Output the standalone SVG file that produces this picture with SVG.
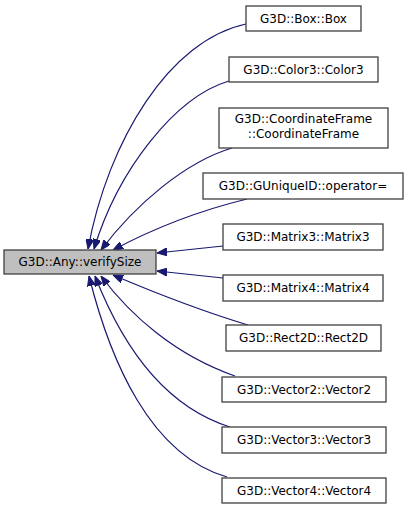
<svg xmlns="http://www.w3.org/2000/svg" width="409" height="509" viewBox="0 0 409 509">
<defs>
<style>
.node rect{fill:#ffffff;stroke:#404040;stroke-width:1.3}
.main rect{fill:#bfbfbf;stroke:#404040;stroke-width:1.3}
text{font-family:"DejaVu Sans","Liberation Sans",sans-serif;font-size:12px;fill:#000000;text-anchor:middle}
.edge{fill:none;stroke:#191970;stroke-width:1.2;marker-end:url(#ah)}
</style>
<marker id="ah" viewBox="0 0 10 8" refX="10" refY="4" markerWidth="10" markerHeight="8" markerUnits="userSpaceOnUse" orient="auto">
<path d="M0,0 L10,4 L0,8 Z" fill="#191970" stroke="#191970"/>
</marker>
</defs>
<rect width="409" height="509" fill="#ffffff"/>
<g id="edges">
<path class="edge" d="M246,24 C170,40 108,140 88,249"/>
<path class="edge" d="M229,81 C175,97 118,170 94,249"/>
<path class="edge" d="M232,148 C185,162 135,205 101,250"/>
<path class="edge" d="M247,199 C210,208 160,225 113,250"/>
<path class="edge" d="M223,246 L157,253"/>
<path class="edge" d="M223,278 L157,271"/>
<path class="edge" d="M248,325 C205,312 160,295 113,275"/>
<path class="edge" d="M235,376 C175,355 130,315 101,276"/>
<path class="edge" d="M230,427 C160,405 120,340 95,276"/>
<path class="edge" d="M227,477 C150,455 110,360 89,276"/>
</g>
<g id="main" class="main"><rect x="4" y="250" width="152" height="24"/><text x="80" y="266">G3D::Any::verifySize</text></g>
<g id="box" class="node"><rect x="246" y="6" width="115" height="25"/><text x="303.5" y="23">G3D::Box::Box</text></g>
<g id="color3" class="node"><rect x="229" y="57" width="149" height="25"/><text x="303.5" y="74">G3D::Color3::Color3</text></g>
<g id="coordframe" class="node"><rect x="219" y="108" width="169" height="40"/><text x="303.5" y="123">G3D::CoordinateFrame</text><text x="303.5" y="138">::CoordinateFrame</text></g>
<g id="guniqueid" class="node"><rect x="203" y="173" width="200" height="26"/><text x="303" y="190">G3D::GUniqueID::operator=</text></g>
<g id="matrix3" class="node"><rect x="223" y="224" width="160" height="26"/><text x="303" y="241">G3D::Matrix3::Matrix3</text></g>
<g id="matrix4" class="node"><rect x="223" y="275" width="160" height="26"/><text x="303" y="292">G3D::Matrix4::Matrix4</text></g>
<g id="rect2d" class="node"><rect x="226" y="325" width="155" height="26"/><text x="303.5" y="342">G3D::Rect2D::Rect2D</text></g>
<g id="vector2" class="node"><rect x="222" y="377" width="164" height="25"/><text x="304" y="394">G3D::Vector2::Vector2</text></g>
<g id="vector3" class="node"><rect x="222" y="427" width="164" height="26"/><text x="304" y="444">G3D::Vector3::Vector3</text></g>
<g id="vector4" class="node"><rect x="222" y="478" width="164" height="25"/><text x="304" y="495">G3D::Vector4::Vector4</text></g>
</svg>
